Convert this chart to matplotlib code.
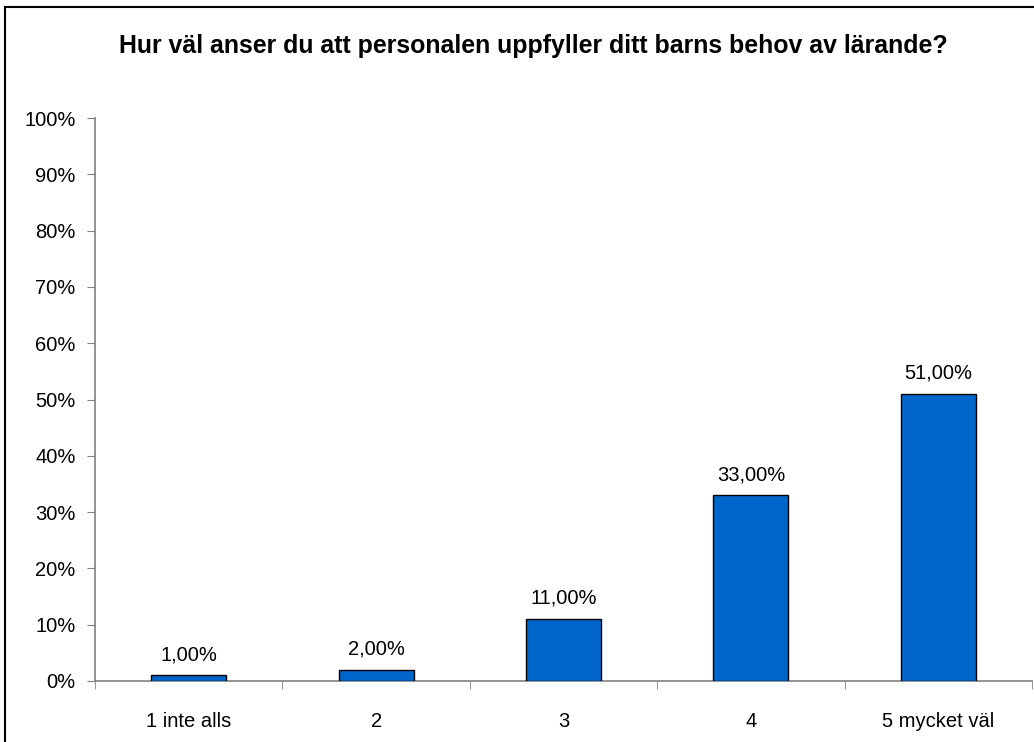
import matplotlib
matplotlib.use("Agg")
import matplotlib.pyplot as plt
from matplotlib.lines import Line2D

categories = ["1 inte alls", "2", "3", "4", "5 mycket väl"]
values = [1.0, 2.0, 11.0, 33.0, 51.0]
yticks = [0, 10, 20, 30, 40, 50, 60, 70, 80, 90, 100]
title = "Hur väl anser du att personalen uppfyller ditt barns behov av lärande?"

plt.rcParams['font.family'] = ['Liberation Sans', 'DejaVu Sans']

W, H = 1034, 742
fig = plt.figure(figsize=(W / 100, H / 100), dpi=100)
ax = fig.add_axes([95 / W, (H - 681) / H, (1032 - 95) / W, (681 - 118) / H])

x = list(range(len(categories)))
ax.bar(x, values, width=0.4, color="#0066CC", edgecolor="black", linewidth=1, zorder=3)

for xi, v in zip(x, values):
    ax.annotate(("%.2f%%" % v).replace(".", ","), (xi, v), xytext=(0, 8),
                textcoords="offset points", ha="center", va="bottom", fontsize=14.5)

ax.set_xlim(-0.5, len(categories) - 0.5)
ax.set_ylim(0, 100)
ax.set_yticks(yticks)
ax.set_yticklabels(["%d%%" % t for t in yticks], fontsize=14.5)
ax.set_xticks(x)
ax.set_xticklabels(categories, fontsize=14.5)
ax.tick_params(axis="x", length=0, pad=22)
ax.set_xticks([i - 0.5 for i in range(len(categories) + 1)], minor=True)
ax.tick_params(axis="x", which="minor", length=6, color="#808080")
ax.tick_params(axis="y", length=6, color="#808080", pad=8)

for s in ["top", "right"]:
    ax.spines[s].set_visible(False)
for s in ["left", "bottom"]:
    ax.spines[s].set_color("#808080")
    ax.spines[s].set_linewidth(1.2)

fig.text(533 / W, 1 - 46 / H, title, ha="center", va="center",
         fontsize=17.9, fontweight="bold")

# outer chart frame (only top and left edges are inside the image)
fig.add_artist(Line2D([5 / W, 5 / W], [0, 1 - 7 / H], color="black", lw=1.5,
                      transform=fig.transFigure))
fig.add_artist(Line2D([5 / W, 1], [1 - 7 / H, 1 - 7 / H], color="black", lw=1.5,
                      transform=fig.transFigure))

fig.savefig("out.png", dpi=100)
